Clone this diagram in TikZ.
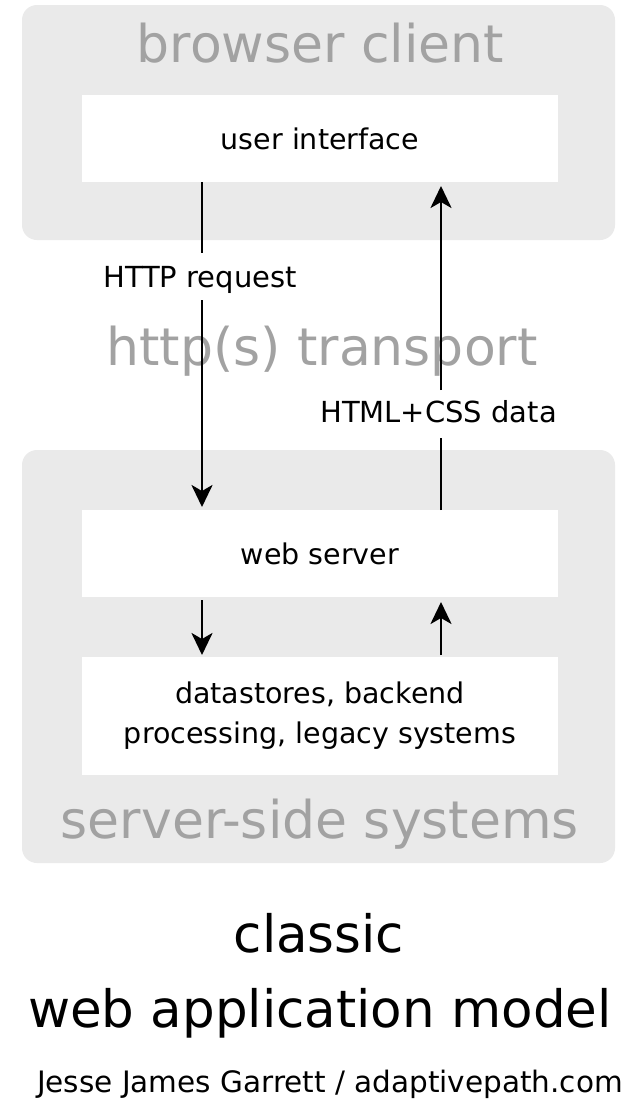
\documentclass[tikz,border=0pt]{standalone}
\usepackage{fontspec}
\setmainfont{DejaVu Sans}
\usetikzlibrary{arrows.meta}
\definecolor{boxgray}{HTML}{EAEAEA}
\definecolor{labelgray}{HTML}{A2A2A2}
\begin{document}
\begin{tikzpicture}[x=1pt,y=-1pt,
  group/.style={fill=boxgray, rounded corners=15pt, draw=none, inner sep=0pt, outer sep=0pt, anchor=north west},
  inbox/.style={fill=white, draw=none, inner sep=0pt, outer sep=0pt, anchor=north west, align=center,
                font=\fontsize{28.5}{40}\selectfont},
  big/.style={font=\fontsize{52}{60}\selectfont, text=labelgray, inner sep=0pt, anchor=base},
  small/.style={font=\fontsize{29}{40}\selectfont, inner sep=0pt},
  title/.style={font=\fontsize{51.5}{60}\selectfont, inner sep=0pt, anchor=base},
  flow/.style={line width=2.8pt, draw=black},
  tip/.style={-{Stealth[length=22pt,width=21pt,inset=6pt]}}
]
\useasboundingbox[fill=white] (0,0) rectangle (624,1100);

% group boxes
\node[group, minimum width=593pt, minimum height=235pt] (client) at (22,5) {};
\node[group, minimum width=593pt, minimum height=413pt] (server) at (22,450) {};

% inner boxes
\node[inbox, minimum width=476pt, minimum height=87pt] (ui) at (82,95) {user interface};
\node[inbox, minimum width=476pt, minimum height=87pt] (ws) at (82,510) {web server};
\node[inbox, minimum width=476pt, minimum height=118pt] (ds) at (82,657)
  {datastores, backend\\processing, legacy systems};

% gray labels
\node[big] (clientlabel) at (320.5,62) {browser client};
\node[big] (transport) at (322,365) {http(s) transport};
\node[big] (serverlabel) at (320,838) {server-side systems};

% connector labels
\node[small, anchor=base west] (req) at (103,287) {HTTP request};
\node[small, anchor=base west] (resp) at (320,422) {HTML+CSS data};

% arrows
\coordinate (a1) at (202,253);
\coordinate (a2) at (202,300);
\coordinate (b1) at (441,438);
\coordinate (b2) at (441,390);
\draw[flow] (ui.south -| a1) -- (a1);
\draw[flow, tip, shorten >=3pt] (a2) -- (ws.north -| a2);
\draw[flow] (ws.north -| b1) -- (b1);
\draw[flow, tip, shorten >=4pt] (b2) -- (ui.south -| b2);
\draw[flow, tip, shorten <=3pt, shorten >=2pt] (ws.south -| a1) -- (ds.north -| a1);
\draw[flow, tip, shorten <=2pt, shorten >=5pt] (ds.north -| b1) -- (ws.south -| b1);

% titles
\node[title] (t1) at (319,952) {classic};
\node[title] (t2) at (320,1027) {web application model};
\node[inner sep=0pt, anchor=base, font=\fontsize{29.5}{34}\selectfont] (credit) at (330,1092)
  {Jesse James Garrett / adaptivepath.com};
\end{tikzpicture}
\end{document}
